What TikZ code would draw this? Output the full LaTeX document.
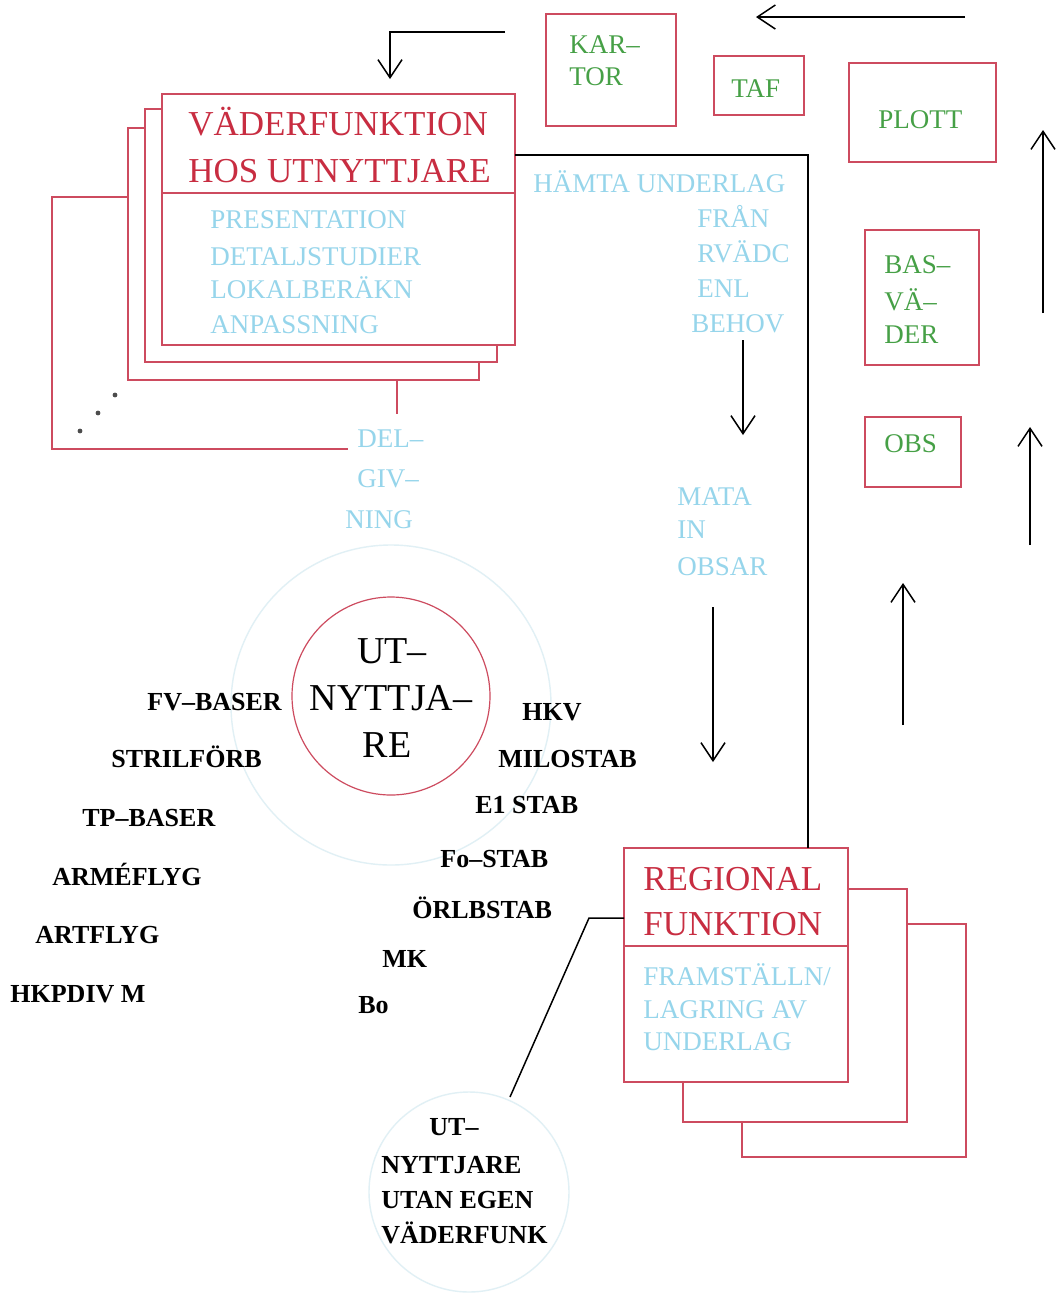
\documentclass[tikz,border=0pt]{standalone}
\usepackage{fontspec}
\setmainfont{Liberation Serif}
\usetikzlibrary{arrows.meta}
\definecolor{tred}{RGB}{200,45,65}
\definecolor{bred}{RGB}{205,75,95}
\definecolor{tblue}{RGB}{150,213,235}
\definecolor{tgreen}{RGB}{70,160,70}
\definecolor{faint}{RGB}{225,240,245}
\begin{document}
\begin{tikzpicture}[x=0.5pt,y=-0.5pt,
  box/.style={draw=bred, line width=0.6pt, fill=white, anchor=north west, inner sep=0pt, outer sep=0pt},
  redline/.style={draw=bred, line width=0.6pt},
  lbl/.style={anchor=base west, inner sep=0pt},
  title/.style={lbl, text=tred, font=\fontsize{17.5}{20}\selectfont},
  bluetxt/.style={lbl, text=tblue, font=\fontsize{13.5}{15}\selectfont},
  greentxt/.style={lbl, text=tgreen, font=\fontsize{13.5}{15}\selectfont},
  blk/.style={lbl, text=black, font=\bfseries\fontsize{13}{15}\selectfont},
  conn/.style={draw=black, line width=0.75pt},
  arr/.style={conn, -{Straight Barb[length=9pt,width=12pt]}},
]
\useasboundingbox[fill=white] (0,0) rectangle (1064,1297);

% faint background circles
\draw[faint, line width=0.7pt] (391,705) circle[radius=80pt];
\draw[faint, line width=0.7pt] (469,1192) circle[radius=50pt];

% ---------- left stack ----------
\draw[redline] (128,197) -- (52,197) -- (52,449) -- (348,449);
\node[box, minimum width=175.5pt, minimum height=126pt] (v3) at (128,128) {};
\node[box, minimum width=176pt, minimum height=126.5pt] (v2) at (145,109) {};
\node[box, minimum width=176.5pt, minimum height=125.5pt] (v1) at (162,94) {};
\draw[redline] (162,193) -- (515,193);
\draw[redline] (397,380) -- (397,414);
\fill[black!70] (115,395) circle[radius=1.2pt] (98,413) circle[radius=1.2pt] (80,431) circle[radius=1.2pt];

\node[title] (vt1) at (188,135) {VÄDERFUNKTION};
\node[title] (vt2) at (188,182) {HOS UTNYTTJARE};
\node[bluetxt] (vb1) at (210,228) {PRESENTATION};
\node[bluetxt] (vb2) at (210,265) {DETALJSTUDIER};
\node[bluetxt] (vb3) at (210,298) {LOKALBERÄKN};
\node[bluetxt] (vb4) at (210,333) {ANPASSNING};

\node[bluetxt] (d1) at (357,447) {DEL–};
\node[bluetxt] (d2) at (357,487) {GIV–};
\node[bluetxt] (d3) at (345,528) {NING};

% ---------- top boxes ----------
\node[box, minimum width=65pt, minimum height=56pt] (kartor) at (546,14) {};
\node[greentxt] (k1) at (569,53) {KAR–};
\node[greentxt] (k2) at (569,85) {TOR};
\node[box, minimum width=45pt, minimum height=29.5pt] (taf) at (714,56) {};
\node[greentxt] (t1) at (731,97) {TAF};
\node[box, minimum width=73.5pt, minimum height=49.5pt] (plott) at (849,63) {};
\node[greentxt] (p1) at (878,128) {PLOTT};
\node[box, minimum width=57pt, minimum height=67.5pt] (basv) at (865,230) {};
\node[greentxt] (b1) at (884,273) {BAS–};
\node[greentxt] (b2) at (884,310) {VÄ–};
\node[greentxt] (b3) at (884,343) {DER};
\node[box, minimum width=48pt, minimum height=35pt] (obs) at (865,417) {};
\node[greentxt] (o1) at (884,452) {OBS};

% ---------- middle texts ----------
\node[bluetxt] (h1) at (533,192) {HÄMTA UNDERLAG};
\node[bluetxt] (h2) at (697,227) {FRÅN};
\node[bluetxt] (h3) at (697,262) {RVÄDC};
\node[bluetxt] (h4) at (697,297) {ENL};
\node[bluetxt] (h5) at (691,332) {BEHOV};
\node[bluetxt] (m1) at (677,505) {MATA};
\node[bluetxt] (m2) at (677,538) {IN};
\node[bluetxt] (m3) at (677,575) {OBSAR};

% ---------- central circle ----------
\node[draw=bred, line width=0.6pt, circle, minimum size=99pt, inner sep=0pt] (ut) at (391,696) {};
\node[anchor=base, inner sep=0pt, font=\fontsize{19}{22}\selectfont] (u1) at (392,663) {UT–};
\node[anchor=base, inner sep=0pt, font=\fontsize{19}{22}\selectfont] (u2) at (391,710) {NYTTJA–};
\node[anchor=base, inner sep=0pt, font=\fontsize{19}{22}\selectfont] (u3) at (387,757) {RE};

\node[blk] (l1) at (147,710) {FV–BASER};
\node[blk] (l2) at (111,767) {STRILFÖRB};
\node[blk] (l3) at (82,826) {TP–BASER};
\node[blk] (l4) at (52,885) {ARMÉFLYG};
\node[blk] (l5) at (35,943) {ARTFLYG};
\node[blk] (l6) at (10,1002) {HKPDIV M};

\node[blk] (q1) at (522,720) {HKV};
\node[blk] (q2) at (498,767) {MILOSTAB};
\node[blk] (q3) at (475,813) {E1 STAB};
\node[blk] (q4) at (440,867) {Fo–STAB};
\node[blk] (q5) at (412,918) {ÖRLBSTAB};
\node[blk] (q6) at (382,967) {MK};
\node[blk] (q7) at (358,1013) {Bo};

% ---------- regional stack ----------
\node[box, minimum width=112pt, minimum height=116.5pt] (r3) at (742,924) {};
\node[box, minimum width=112pt, minimum height=116.5pt] (r2) at (683,889) {};
\node[box, minimum width=112pt, minimum height=117pt] (r1) at (624,848) {};
\draw[redline] (624,946) -- (848,946);
\node[title] (rt1) at (643,890) {REGIONAL};
\node[title] (rt2) at (643,935) {FUNKTION};
\node[bluetxt] (rb1) at (643,985) {FRAMSTÄLLN/};
\node[bluetxt] (rb2) at (643,1018) {LAGRING AV};
\node[bluetxt] (rb3) at (643,1050) {UNDERLAG};

% ---------- bottom label ----------
\node[blk] (n1) at (429,1135) {UT–};
\node[blk] (n2) at (381,1173) {NYTTJARE};
\node[blk] (n3) at (381,1208) {UTAN EGEN};
\node[blk] (n4) at (381,1243) {VÄDERFUNK};

% ---------- connectors ----------
\coordinate (c1) at (808,155);
\draw[conn] (v1.east |- c1) -- (c1) -- (c1 |- r1.north);
\coordinate (c2) at (589,918);
\coordinate (c3) at (510,1097);
\draw[conn] (c3) -- (c2) -- (c2 -| r1.west);

% ---------- arrows ----------
\coordinate (a1s) at (965,17); \coordinate (a1e) at (756,17);
\draw[arr] (a1s) -- (a1e);
\coordinate (a2s) at (505,32); \coordinate (a2c) at (390,32); \coordinate (a2e) at (390,79);
\draw[arr] (a2s) -- (a2c) -- (a2e);
\coordinate (a3s) at (1043,313); \coordinate (a3e) at (1043,130);
\draw[arr] (a3s) -- (a3e);
\coordinate (a4s) at (1030,545); \coordinate (a4e) at (1030,427);
\draw[arr] (a4s) -- (a4e);
\coordinate (a5s) at (903,725); \coordinate (a5e) at (903,583);
\draw[arr] (a5s) -- (a5e);
\coordinate (a6s) at (743,340); \coordinate (a6e) at (743,435);
\draw[arr] (a6s) -- (a6e);
\coordinate (a7s) at (713,607); \coordinate (a7e) at (713,762);
\draw[arr] (a7s) -- (a7e);
\end{tikzpicture}
\end{document}
